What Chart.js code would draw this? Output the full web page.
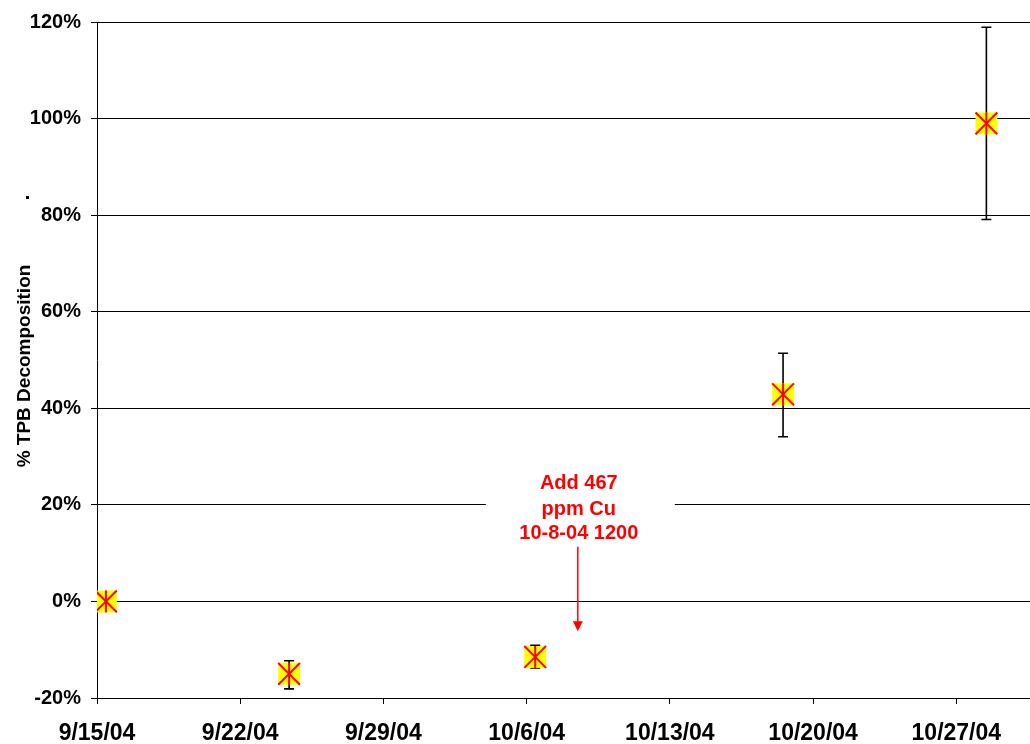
<!DOCTYPE html>
<html>
<head>
<meta charset="utf-8">
<script src="https://cdn.jsdelivr.net/npm/chart.js@4.4.1/dist/chart.umd.min.js"></script>
<style>
  html, body { margin: 0; padding: 0; background: #fff; overflow: hidden; }
  #wrap { width: 1030px; height: 744px; position: relative; }
</style>
</head>
<body>
<div id="wrap"><canvas id="chart"></canvas></div>
<script>
// sample dates and % TPB decomposition with error bar limits
const sampleDates = ['2004-09-15T10:30', '2004-09-24T09:20', '2004-10-06T10:00', '2004-10-18T12:45', '2004-10-28T11:15'];
const decomposition = [0, -15.0, -11.5, 42.9, 99.0];
const errHigh = [0, -12.3, -9.1, 51.4, 118.9];
const errLow = [0, -18.1, -13.8, 34.1, 79.1];

// axis
const startDate = '2004-09-15T00:00';
const endDate = '2004-10-30T14:25';
const tickDates = ['2004-09-15', '2004-09-22', '2004-09-29', '2004-10-06', '2004-10-13', '2004-10-20', '2004-10-27'];
const tickLabels = ['9/15/04', '9/22/04', '9/29/04', '10/6/04', '10/13/04', '10/20/04', '10/27/04'];
const yTicks = [-20, 0, 20, 40, 60, 80, 100, 120];

// annotation
const noteDate = '2004-10-08T12:00';
const noteLines = ['Add 467', 'ppm Cu', '10-8-04 1200'];
const arrowFrom = 11.3;
const arrowTo = -6.2;

const FONT = '"Liberation Sans", Arial, sans-serif';
const dayMs = 24 * 3600 * 1000;
const t0 = new Date(startDate + 'Z').getTime();
function toDay(s) {
    if (s.length === 10) s += 'T00:00';
    return (new Date(s + 'Z').getTime() - t0) / dayMs;
}

const points = sampleDates.map((d, i) => ({ x: toDay(d), y: decomposition[i] }));
const tickDays = tickDates.map(toDay);

const errorBars = {
    id: 'errorBars',
    beforeDatasetsDraw(chart) {
        const { ctx, scales: { x, y } } = chart;
        ctx.save();
        ctx.strokeStyle = '#000';
        ctx.lineWidth = 1.6;
        points.forEach((p, i) => {
            if (errHigh[i] === errLow[i]) return;
            const px = x.getPixelForValue(p.x);
            const top = y.getPixelForValue(errHigh[i]);
            const bot = y.getPixelForValue(errLow[i]);
            ctx.beginPath();
            ctx.moveTo(px, top); ctx.lineTo(px, bot);
            ctx.moveTo(px - 5, top); ctx.lineTo(px + 5, top);
            ctx.moveTo(px - 5, bot); ctx.lineTo(px + 5, bot);
            ctx.stroke();
        });
        ctx.restore();
    }
};

const extras = {
    id: 'extras',
    afterDraw(chart) {
        const { ctx, scales: { x, y } } = chart;
        const ax = x.getPixelForValue(toDay(noteDate));
        const tail = y.getPixelForValue(arrowFrom);
        const tip = y.getPixelForValue(arrowTo);
        ctx.save();
        // white box behind the note text
        ctx.fillStyle = '#fff';
        ctx.fillRect(ax - 92, tail - 78, 189, 74);
        ctx.fillStyle = '#ff0000';
        ctx.font = 'bold 20px ' + FONT;
        ctx.textAlign = 'center';
        ctx.textBaseline = 'middle';
        const offs = [-63, -37, -13];
        noteLines.forEach((t, i) => ctx.fillText(t, ax + 1, tail + offs[i]));
        // arrow
        ctx.strokeStyle = '#ff0000';
        ctx.lineWidth = 1.5;
        ctx.beginPath();
        ctx.moveTo(ax, tail);
        ctx.lineTo(ax, tip - 9);
        ctx.stroke();
        ctx.beginPath();
        ctx.moveTo(ax - 5, tip - 10);
        ctx.lineTo(ax + 5, tip - 10);
        ctx.lineTo(ax, tip);
        ctx.closePath();
        ctx.fill();
        // y axis title
        ctx.fillStyle = '#000';
        ctx.font = 'bold 19px ' + FONT;
        ctx.translate(25, 366);
        ctx.rotate(-Math.PI / 2);
        ctx.fillText('% TPB Decomposition', 0, 0);
        ctx.restore();
        ctx.save();
        ctx.fillStyle = '#000';
        ctx.fillRect(26, 196, 3, 3);
        ctx.restore();
    }
};

new Chart(document.getElementById('chart'), {
    type: 'scatter',
    data: {
        datasets: [
            {
                data: points,
                pointStyle: 'line',
                rotation: 90,
                radius: 11,
                borderColor: '#ff0000',
                borderWidth: 2,
                order: 1
            },
            {
                data: points,
                pointStyle: 'crossRot',
                radius: 15.4,
                borderColor: '#ff0000',
                borderWidth: 2,
                order: 2
            },
            {
                data: points,
                pointStyle: 'rect',
                radius: 15.4,
                backgroundColor: '#ffff00',
                borderWidth: 0,
                order: 3
            }
        ]
    },
    options: {
        responsive: true,
        maintainAspectRatio: false,
        animation: false,
        layout: { autoPadding: false, padding: { top: 22, right: 0, left: 0, bottom: 0 } },
        plugins: {
            legend: { display: false },
            tooltip: { enabled: false }
        },
        scales: {
            x: {
                type: 'linear',
                min: 0,
                max: toDay(endDate),
                afterBuildTicks: scale => {
                    scale.ticks = tickDays.map(v => ({ value: v }));
                },
                afterFit: scale => {
                    scale.height = 46;
                    scale.paddingRight = 0;
                    scale.paddingLeft = 0;
                },
                border: { color: '#000', width: 1 },
                grid: { drawOnChartArea: false, drawTicks: true, tickLength: 6, color: '#000' },
                ticks: {
                    autoSkip: false,
                    maxRotation: 0,
                    padding: 16,
                    color: '#000',
                    font: { family: FONT, size: 23, weight: 'bold' },
                    callback: (v, i) => tickLabels[i]
                }
            },
            y: {
                min: -20,
                max: 120,
                afterBuildTicks: scale => {
                    scale.ticks = yTicks.map(v => ({ value: v }));
                },
                afterFit: scale => { scale.width = 97; },
                border: { color: '#000', width: 1 },
                grid: { color: '#000', lineWidth: 1, tickLength: 6 },
                ticks: {
                    padding: 10,
                    color: '#000',
                    font: { family: FONT, size: 20, weight: 'bold' },
                    callback: v => v + '%'
                }
            }
        }
    },
    plugins: [errorBars, extras]
});
</script>
</body>
</html>
